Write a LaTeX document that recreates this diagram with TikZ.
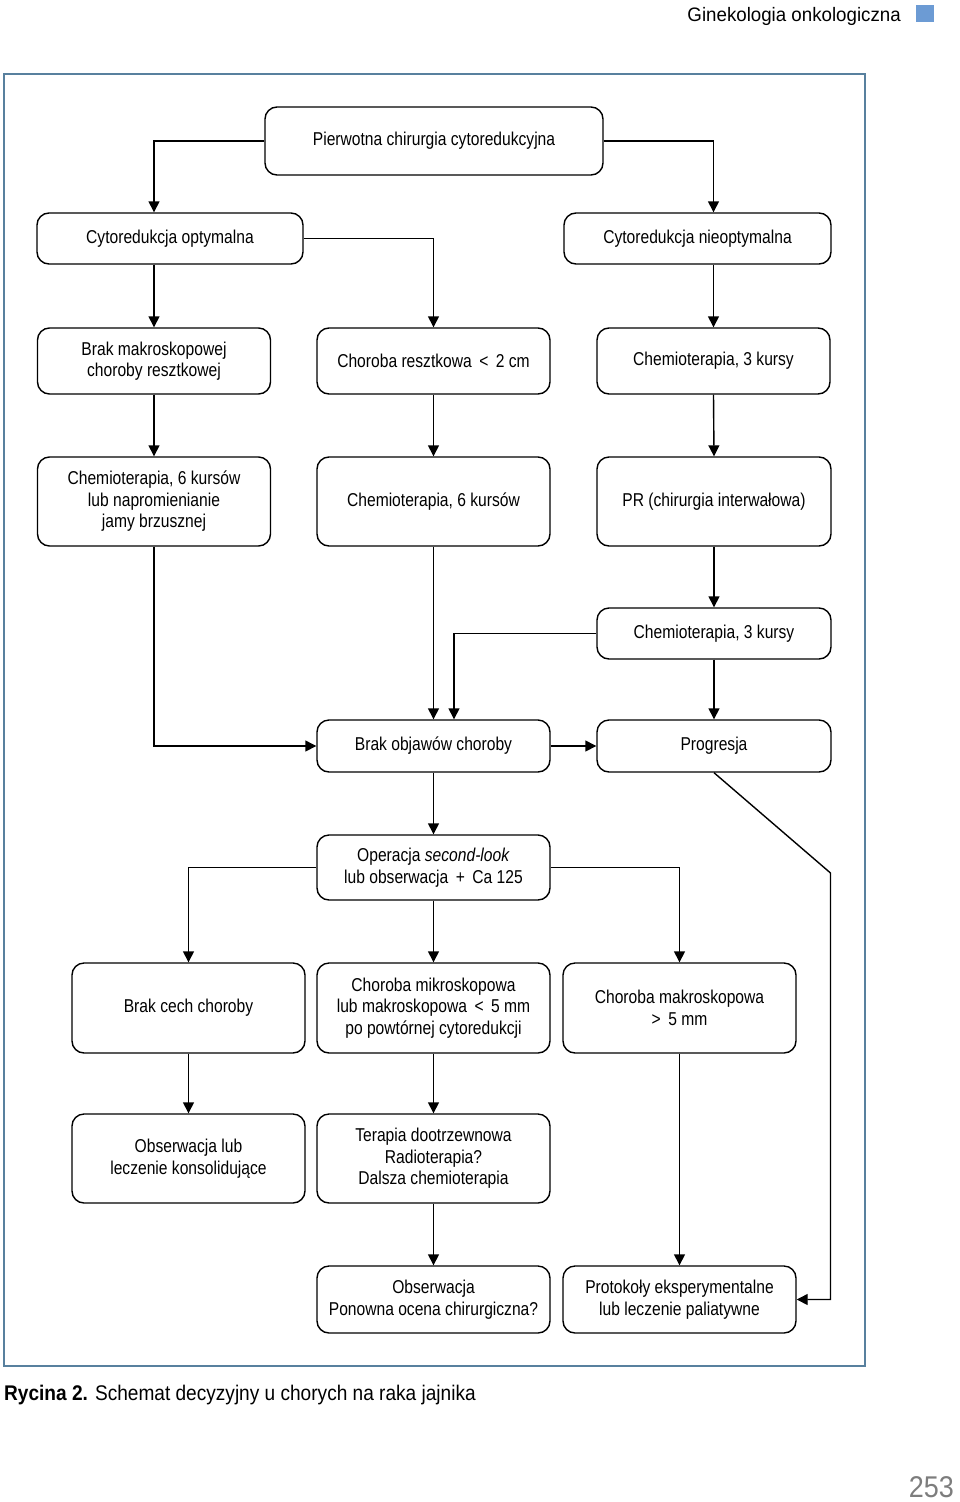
\documentclass[tikz,border=0pt]{standalone}
\usepackage{fontspec}
\setmainfont{Liberation Sans}
\newfontfamily\boxfont{Liberation Sans}[FakeStretch=0.84]
\newfontfamily\hdfont{Liberation Sans}[FakeStretch=0.96]
\newfontfamily\capfont{Liberation Sans}[FakeStretch=0.9]
\usetikzlibrary{arrows.meta,calc}
\definecolor{framecol}{RGB}{88,128,158}
\definecolor{sqcol}{RGB}{108,155,212}
\definecolor{pgcol}{RGB}{125,125,125}
\tikzset{
  fbox/.style={draw, line width=1.4pt, rounded corners=12pt, align=center, inner sep=0pt,
    font=\boxfont\fontsize{18.6}{21.5}\selectfont, text=black},
  arr/.style={line width=1.4pt, -{Triangle[length=11pt,width=11pt]}},
  ln/.style={line width=1.4pt}
}
\begin{document}
\begin{tikzpicture}[x=1pt,y=-1pt]
\useasboundingbox (0,0) rectangle (960,1502);
% header
\node[anchor=east, inner sep=0pt, font=\hdfont\fontsize{19.5}{22}\selectfont] (hd) at (901,16) {Ginekologia onkologiczna};
\fill[sqcol] (916,5) rectangle (934,22);
% frame
\draw[framecol, line width=1.5pt] (4,74) rectangle (865,1366);
% nodes
\node[fbox, minimum width=338pt, minimum height=68pt] (p) at (434,141) {Pierwotna chirurgia cytoredukcyjna};
\node[fbox, minimum width=266pt, minimum height=51pt] (co) at (170,238.5) {Cytoredukcja optymalna};
\node[fbox, minimum width=267pt, minimum height=51pt] (cn) at (697.5,238.5) {Cytoredukcja nieoptymalna};
\node[fbox, minimum width=233pt, minimum height=66pt] (bm) at (154,361) {Brak makroskopowej\\choroby resztkowej};
\node[fbox, minimum width=233pt, minimum height=66pt] (cr) at (433.5,361) {Choroba resztkowa \,<\, 2 cm};
\node[fbox, minimum width=233pt, minimum height=66pt] (c3) at (713.5,361) {Chemioterapia, 3 kursy};
\node[fbox, minimum width=233pt, minimum height=89pt] (c6l) at (154,501.5) {Chemioterapia, 6 kursów\\lub napromienianie\\jamy brzusznej};
\node[fbox, minimum width=233pt, minimum height=89pt] (c6) at (433.5,501.5) {Chemioterapia, 6 kursów};
\node[fbox, minimum width=234pt, minimum height=89pt] (pr) at (714,501.5) {PR (chirurgia interwałowa)};
\node[fbox, minimum width=234pt, minimum height=51pt] (c3b) at (714,633.5) {Chemioterapia, 3 kursy};
\node[fbox, minimum width=233pt, minimum height=52pt] (bo) at (433.5,746) {Brak objawów choroby};
\node[fbox, minimum width=234pt, minimum height=52pt] (pg) at (714,746) {Progresja};
\node[fbox, minimum width=233pt, minimum height=65pt] (op) at (433.5,867.5) {Operacja \textit{second-look}\\lub obserwacja \,+\, Ca 125};
\node[fbox, minimum width=233pt, minimum height=90pt] (bc) at (188.5,1008) {Brak cech choroby};
\node[fbox, minimum width=233pt, minimum height=90pt] (cm) at (433.5,1008) {Choroba mikroskopowa\\lub makroskopowa \,<\, 5 mm\\po powtórnej cytoredukcji};
\node[fbox, minimum width=233pt, minimum height=90pt] (cmk) at (679.5,1008) {Choroba makroskopowa\\>\, 5 mm};
\node[fbox, minimum width=233pt, minimum height=89pt] (ol) at (188.5,1158.5) {Obserwacja lub\\leczenie konsolidujące};
\node[fbox, minimum width=233pt, minimum height=89pt] (td) at (433.5,1158.5) {Terapia dootrzewnowa\\Radioterapia?\\Dalsza chemioterapia};
\node[fbox, minimum width=233pt, minimum height=67pt] (ob) at (433.5,1299.5) {Obserwacja\\Ponowna ocena chirurgiczna?};
\node[fbox, minimum width=233pt, minimum height=67pt] (pt) at (679.5,1299.5) {Protokoły eksperymentalne\\lub leczenie paliatywne};
% connectors
\draw[arr] (p.west) -| (co.north -| bm.north);
\draw[arr] (p.east) -| (cn.north -| c3.north);
\draw[arr] (co.south -| bm.north) -- (bm.north);
\draw[arr] (co.east) -| (cr.north);
\draw[arr] (cn.south -| c3.north) -- (c3.north);
\draw[arr] (bm.south) -- (c6l.north);
\draw[arr] (cr.south) -- (c6.north);
\draw[arr] (c3.south) -- (pr.north);
\draw[arr] (c6l.south) |- (bo.west);
\draw[arr] (c6.south) -- (bo.north);
\draw[arr] (pr.south) -- (c3b.north);
\coordinate (bo2) at ($(bo.north)+(20.5,0)$);
\draw[arr] (c3b.west) -| (bo2);
\draw[arr] (c3b.south) -- (pg.north);
\draw[arr] (bo.east) -- (pg.west);
\coordinate (k1) at (830.5,873);
\draw[arr] (pg.south) -- (k1) |- (pt.east);
\draw[arr] (bo.south) -- (op.north);
\draw[arr] (op.west) -| (bc.north);
\draw[arr] (op.south) -- (cm.north);
\draw[arr] (op.east) -| (cmk.north);
\draw[arr] (bc.south) -- (ol.north);
\draw[arr] (cm.south) -- (td.north);
\draw[arr] (cmk.south) -- (pt.north);
\draw[arr] (td.south) -- (ob.north);
% caption
\node[anchor=west, inner sep=0pt, font=\capfont\fontsize{21.2}{24}\selectfont] (cap) at (4,1395) {\textbf{Rycina 2.} Schemat decyzyjny u chorych na raka jajnika};
% page number
\node[anchor=east, inner sep=0pt, text=pgcol, font=\capfont\fontsize{30}{34}\selectfont] (pn) at (954,1487) {253};
\end{tikzpicture}
\end{document}
